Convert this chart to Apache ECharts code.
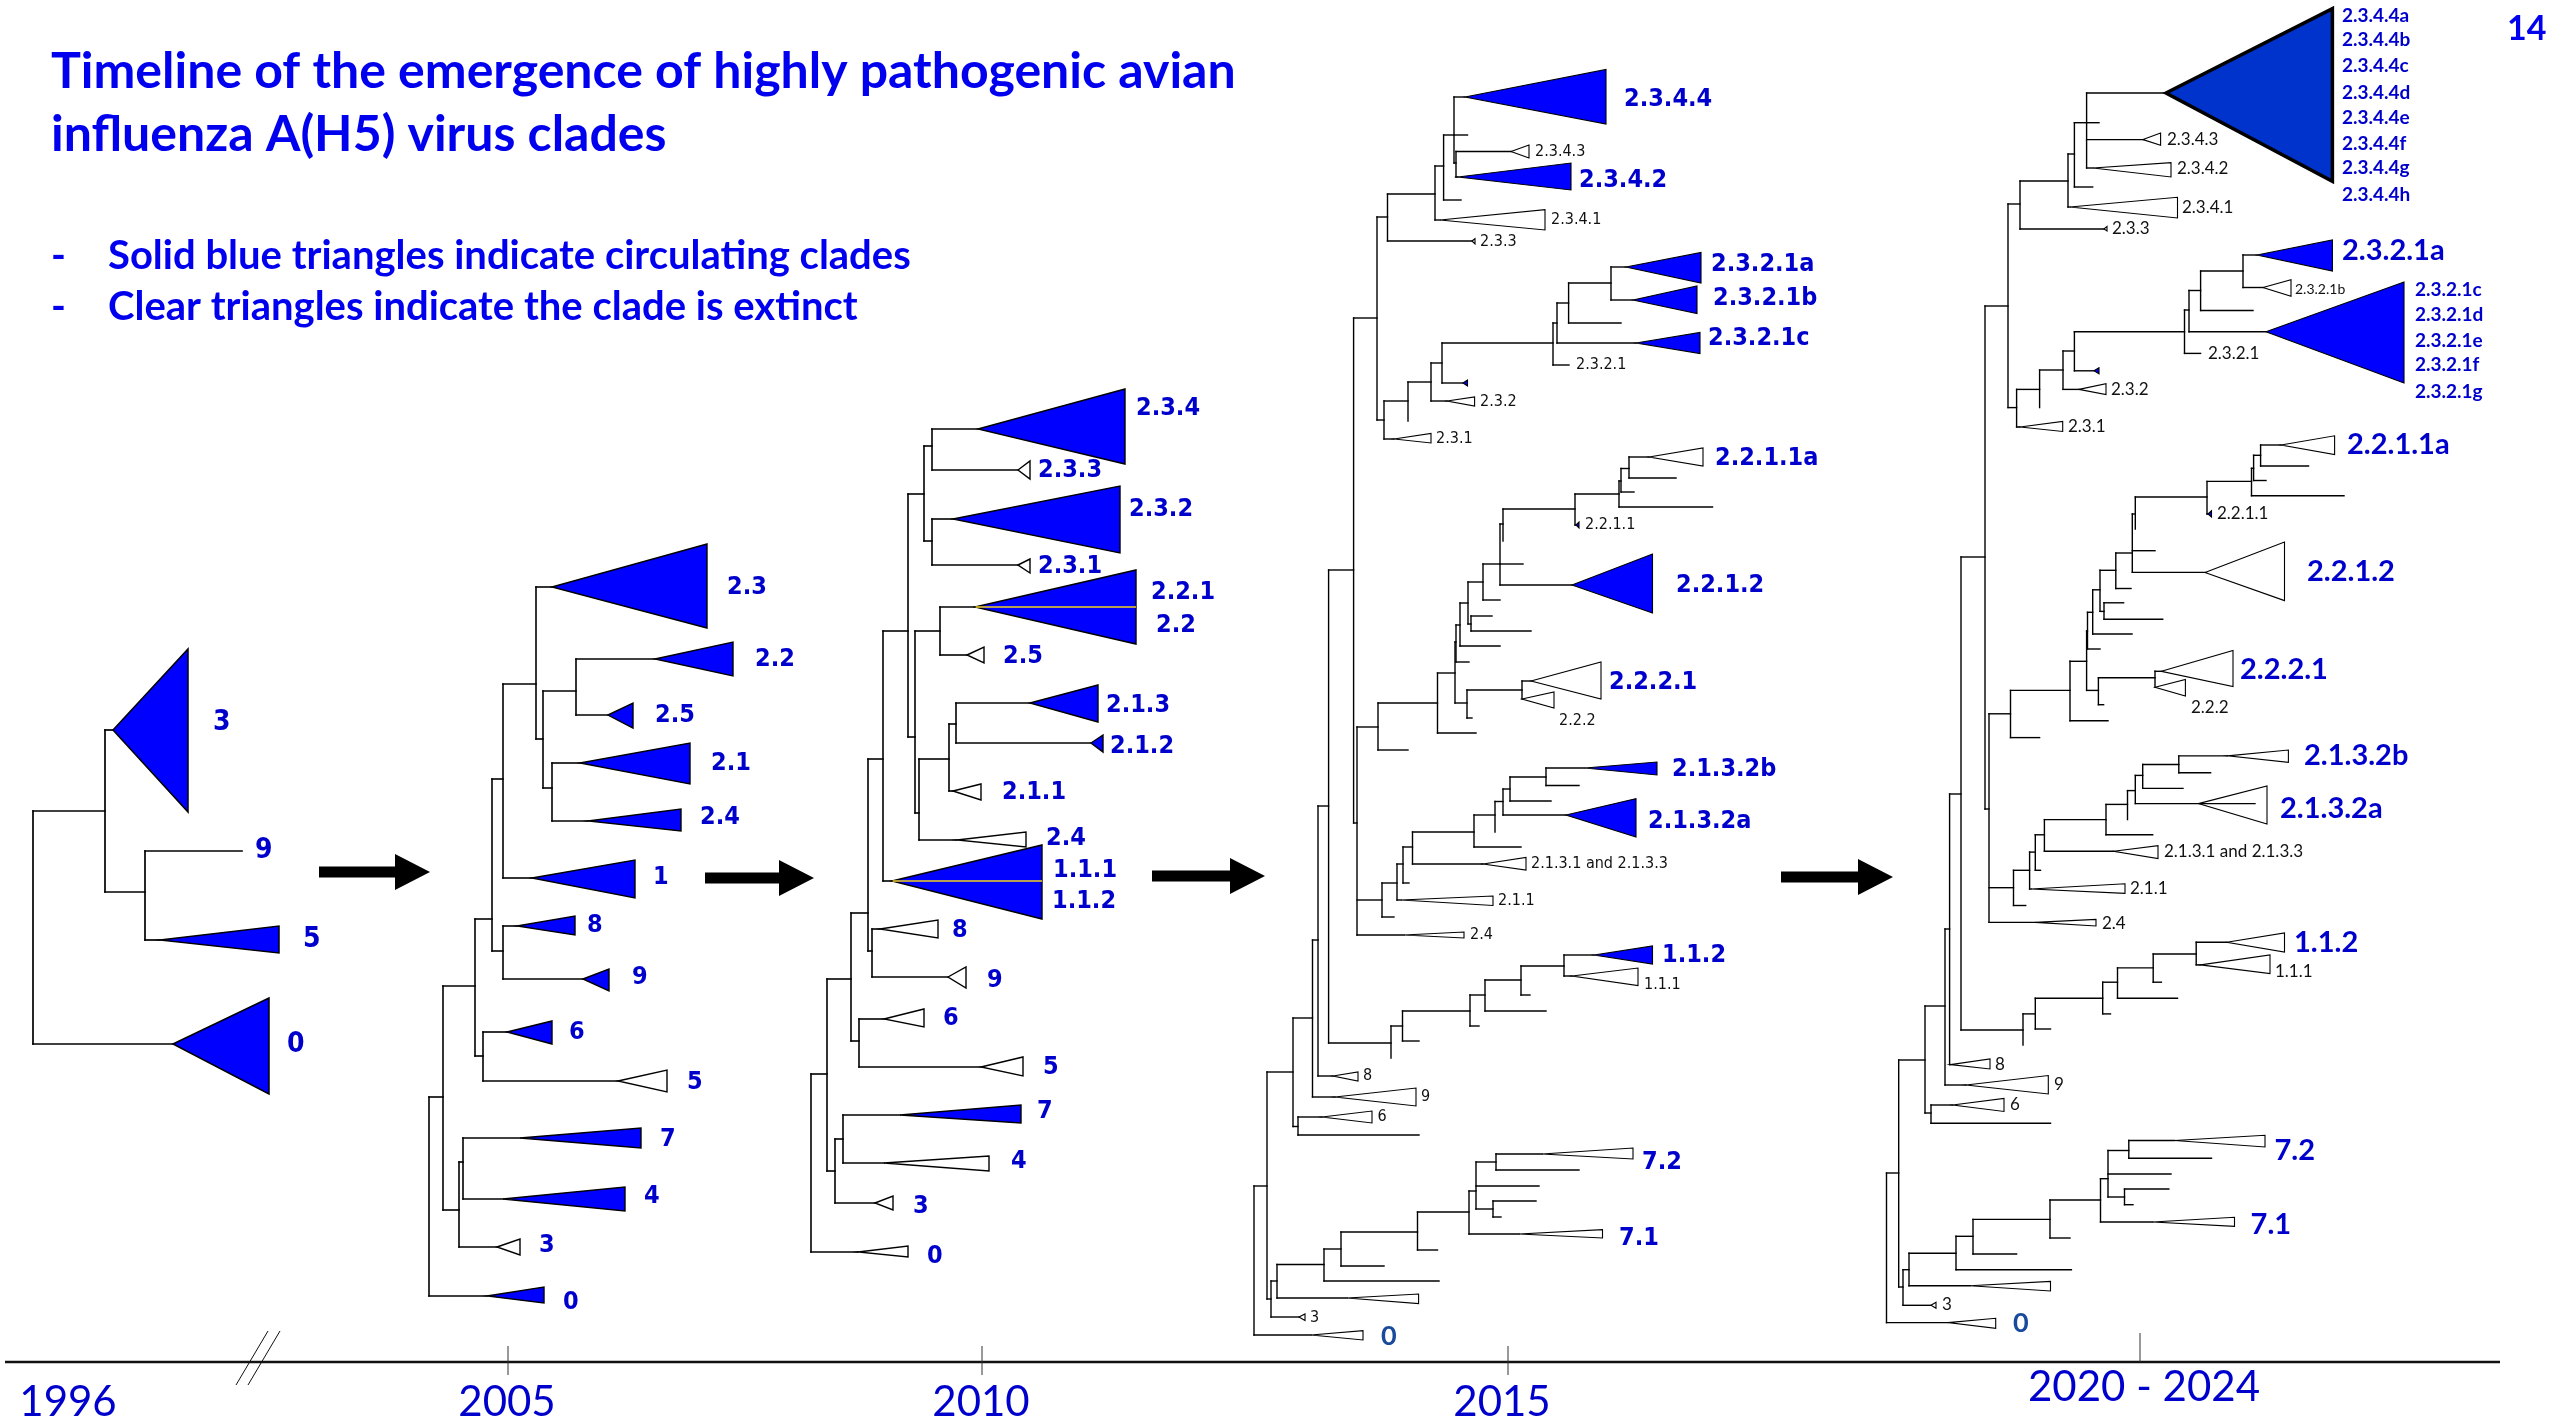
<!DOCTYPE html>
<html><head><meta charset="utf-8">
<script src="https://cdn.jsdelivr.net/npm/echarts@6/dist/echarts.min.js"></script>
<style>html,body{margin:0;padding:0;background:#fff}#c{width:2552px;height:1422px}</style>
</head><body><div id="c"></div>
<script>
// ---------- DATA ----------
// nodes: [id, parentId, x (divergence), y (row)]
// clades: [id, baseX, top, bottom, kind(F=blue,O=open,D=dark blue,Y=blue+yellow), apexX?]
// labels: [text, x, y, style]
const tree1996Nodes = [
 ['R',null,33,928],['A','R',105,811],['c3','A',113,730],['B','A',145,892],
 ['c9','B',242,851],['c5','B',160,940],['c0','R',173,1044]
];
const tree1996Clades = [['c3',188,649,812,'F'],['c5',279,926,953,'F'],['c0',269,998,1094,'F']];
const tree1996Labels = [['3',213,723,'b27'],['9',255,851,'b27'],['5',303,940,'b27'],['0',287,1045,'b27']];

const tree2005Nodes = [
 ['r',null,429,1200],['n1','r',443,1097],['n2','n1',475,986],['n3','n2',492,919],
 ['n4','n3',503,779],['n5','n4',536,684],['t23','n5',552,587],['n6','n5',543,739],
 ['n7','n6',576,691],['t22','n7',655,659],['t25','n7',608,715],['n8','n6',552,788],
 ['t21','n8',580,763],['t24','n8',588,821],['t1','n4',532,878],['n9','n3',503,951],
 ['t8','n9',517,926],['t9','n9',583,979],['n10','n2',483,1056],['t6','n10',507,1032],
 ['t5','n10',618,1081],['n11','n1',459,1210],['n12','n11',463,1162],['t7','n12',520,1138],
 ['t4','n12',503,1199],['t3','n11',497,1247],['t0','r',487,1296]
];
const tree2005Clades = [
 ['t23',707,544,628,'F'],['t22',733,642,676,'F'],['t25',633,703,728,'F'],['t21',690,743,784,'F'],
 ['t24',681,809,831,'F'],['t1',635,860,898,'F'],['t8',575,916,935,'F'],['t9',609,969,991,'F'],
 ['t6',552,1021,1044,'F'],['t5',667,1070,1092,'O'],['t7',641,1128,1148,'F'],['t4',625,1187,1211,'F'],
 ['t3',520,1239,1255,'O'],['t0',544,1287,1303,'F']
];
const tree2005Labels = [
 ['2.3',727,587,'b24'],['2.2',755,659,'b24'],['2.5',655,715,'b24'],['2.1',711,763,'b24'],
 ['2.4',700,817,'b24'],['1',653,877,'b24'],['8',587,925,'b24'],['9',632,977,'b24'],
 ['6',569,1032,'b24'],['5',687,1082,'b24'],['7',660,1139,'b24'],['4',644,1196,'b24'],
 ['3',539,1245,'b24'],['0',563,1302,'b24']
];

const tree2010Nodes = [
 ['r',null,811,1150],['n1','r',827,1074],['n2','n1',851,979],['n3','n2',868,913],
 ['n4','n3',883,759],['n5','n4',908,631],['n6','n5',924,494],['n6a','n6',932,446],
 ['t234','n6a',978,429],['t233','n6a',1018,470],['n6b','n6',932,541],['t232','n6b',953,519],
 ['t231','n6b',1018,565],['n7','n5',915,737],['n8','n7',940,631],['t221','n8',975,607],
 ['t25','n8',967,655],['n9','n7',919,813],['n10','n9',949,759],['n11','n10',956,724],
 ['t213','n11',1030,703],['t212','n11',1091,743],['t211','n10',953,791],['t24','n9',957,840],
 ['t11','n4',892,881],['n12','n3',872,951],['t8','n12',880,929],['t9','n12',948,977],
 ['n13','n2',859,1041],['t6','n13',884,1019],['t5','n13',981,1067],['n14','n1',835,1171],
 ['n15','n14',843,1139],['t7','n15',900,1115],['t4','n15',884,1163],['t3','n14',875,1203],
 ['t0','r',858,1252]
];
const tree2010Clades = [
 ['t234',1125,389,464,'F'],['t233',1030,461,479,'O'],['t232',1120,486,553,'F'],['t231',1030,559,573,'O'],
 ['t221',1136,570,644,'Y'],['t25',984,647,663,'O'],['t213',1098,685,722,'F'],['t212',1103,735,752,'F'],
 ['t211',981,784,800,'O'],['t24',1026,832,847,'O'],['t11',1042,845,919,'Y'],['t8',938,920,938,'O'],
 ['t9',966,967,988,'O'],['t6',924,1009,1027,'O'],['t5',1023,1057,1076,'O'],['t7',1021,1105,1123,'F'],
 ['t4',989,1156,1171,'O'],['t3',893,1196,1210,'O'],['t0',908,1246,1257,'O']
];
const tree2010Labels = [
 ['2.3.4',1136,408,'b24'],['2.3.3',1038,470,'b24'],['2.3.2',1129,509,'b24'],['2.3.1',1038,566,'b24'],
 ['2.2.1',1151,592,'b24'],['2.2',1156,625,'b24'],['2.5',1003,656,'b24'],['2.1.3',1106,705,'b24'],
 ['2.1.2',1110,746,'b24'],['2.1.1',1002,792,'b24'],['2.4',1046,838,'b24'],['1.1.1',1053,870,'b24'],
 ['1.1.2',1052,901,'b24'],['8',952,930,'b24'],['9',987,980,'b24'],['6',943,1018,'b24'],
 ['5',1043,1067,'b24'],['7',1037,1111,'b24'],['4',1011,1161,'b24'],['3',913,1206,'b24'],['0',927,1256,'b24']
];

const tree2015Nodes = [
 ['DG',null,1254,1260],['DF','DG',1267,1186],['t0','DG',1311,1335],['DD','DF',1293,1072],
 ['EA','DF',1271,1299],['DC','DD',1312.5,1018],['DE','DD',1298,1126.5],['DB','DC',1318,940],
 ['t9','DC',1335,1097],['DA','DB',1328.6,806],['t8','DB',1333,1076],['AR','DA',1353.6,570],
 ['CA','DA',1391,1043],['T','AR',1377,318],['AQ','AR',1357,823],['S','T',1387.5,217],
 ['U','T',1384,420],['R','S',1435,194],['t233','S',1472,241],['Q','R',1443.6,166],
 ['t2341','R',1440,220],['P1','Q',1454,135],['tB','Q',1461,200],['t2344','P1',1465,97],
 ['tA','P1',1467.5,135],['P2','P1',1456,163],['t2343','P2',1511,151.5],['t2342','P2',1458,177],
 ['V','U',1408,401],['t231','U',1394,439],['W','V',1431,382],['sV','V',1408,421],
 ['X1','W',1442,363],['t232','W',1447,401],['Y1','X1',1553,343],['ts','X1',1463,383],
 ['Z1','Y1',1557,323],['tC','Y1',1569,365],['Z2','Z1',1568.6,303],['t2321c','Z1',1636,343],
 ['Z3','Z2',1611,283],['tD','Z2',1621,323],['t2321a','Z3',1626,267],['t2321b','Z3',1633,300],
 ['AP','AQ',1378,727],['BA','AQ',1382,900],['t24','AQ',1404,935],['AO','AP',1437.5,703],
 ['tO','AP',1408,750],['AN','AO',1455,673],['tN','AO',1476,733],['AK','AN',1456,642],
 ['AL','AN',1467,703],['AJ','AK',1460,625],['tM','AK',1469,662],['AH','AJ',1468,603],
 ['tL','AJ',1500,646],['AG','AH',1483,582],['AI','AH',1471,624],['tJ','AI',1492,616],
 ['tK','AI',1531,631],['AF','AG',1500,564],['tI','AG',1500,600],['AE','AF',1503,524],
 ['tH','AF',1523,564],['t2212','AF',1572,585],['AD','AE',1575,509],['sE','AE',1503,541],
 ['AC','AD',1619,494],['t2211','AD',1576,525],['AB','AC',1621,481],['tG','AC',1712.5,507],
 ['AA','AB',1629,468.5],['tF','AB',1634,492],['t2211a','AA',1649,457],['tE','AA',1676,478],
 ['AM','AL',1522,690],['sL','AL',1472,718],['t2221','AM',1531,681],['t222','AM',1522,699],
 ['BB','BA',1397,883],['tP','BA',1394,917],['BC','BB',1403,864],['t211','BB',1401,900],
 ['BD','BC',1412.5,847],['tQ','BC',1409,883],['BE','BD',1474,832],['t2131','BD',1483,864],
 ['BF','BE',1495,815],['tR','BE',1521,847],['BG','BF',1503,801.5],['sF','BF',1495,832],
 ['BH','BG',1510,789],['t2132a','BG',1566,815],['BI','BH',1546,777],['tS','BH',1551,801],
 ['t2132b','BI',1585,768],['tT','BI',1579,785.5],
 ['CB','CA',1402.5,1026],['sC','CA',1391,1058],['CC','CB',1470,1011],['tU','CB',1419,1041],
 ['CD','CC',1485,995],['tV','CC',1479,1026],['CE','CD',1521,980],['tW','CD',1546,1011],
 ['CF','CE',1564,966],['tX','CE',1530,995],['t112','CF',1594,955],['t111','CF',1572,976],
 ['t6','DE',1322,1117],['tY','DE',1419,1135],
 ['EB','EA',1277,1281],['t3','EA',1299,1317],['EC','EB',1324,1264.5],['top','EB',1347,1298],
 ['ED','EC',1341,1249],['tZ','EC',1439,1281],['EE','ED',1417.5,1232],['tZ2','ED',1384,1266],
 ['EF','EE',1469,1212],['tZ3','EE',1437.5,1250],['EG','EF',1476,1191],['t71','EF',1519,1234],
 ['EH','EG',1496,1162],['tZ4','EG',1539,1186],['EI','EG',1493,1209],['t72','EH',1542,1154],
 ['tZ5','EH',1579,1170],['tZ6','EI',1536,1201],['tZ7','EI',1501,1217]
];
const tree2015Clades = [
 ['t0',1363,1330.6,1340,'O'],['t9',1416,1088,1106,'O'],['t8',1358,1072,1081,'O'],
 ['t233',1475,238.7,244,'O'],['t2341',1545,209.6,230,'O'],['t2344',1606,69.5,124,'F'],
 ['t2343',1529,145,158,'O'],['t2342',1571,163,190,'F'],['t231',1431,433.5,443,'O'],
 ['t232',1474.6,397,406,'O'],['ts',1467.5,380,386,'F'],['t2321c',1700,332.5,353.5,'F'],
 ['t2321a',1701,252.5,283,'F'],['t2321b',1697,286,313.6,'F'],['t24',1464,932,938,'O'],
 ['t2212',1652.5,554,613,'F'],['t2211',1579,522,528,'F'],['t2211a',1703,448,466,'O'],
 ['t2221',1601,662,699,'O'],['t222',1554,692,708,'O'],['t211',1493,896,905.5,'O'],
 ['t2131',1526,857.5,870,'O'],['t2132a',1636,798.6,837,'F'],['t2132b',1657,762,775,'F'],
 ['t112',1652.5,946,964,'F'],['t111',1638,968,985.5,'O'],['t6',1372,1111,1123,'O'],
 ['t3',1305,1314,1320.5,'O'],['top',1418.6,1294,1303.6,'O'],['t71',1602.5,1229.6,1238,'O'],
 ['t72',1633,1148,1159,'O']
];
const tree2015Labels = [
 ['2.3.4.4',1624,99,'B'],['2.3.4.2',1579,180,'B'],['2.3.2.1a',1711,264,'B'],['2.3.2.1b',1713,298,'B'],
 ['2.3.2.1c',1708,338,'B'],['2.2.1.1a',1715,458,'B'],['2.2.1.2',1676,585,'B'],['2.2.2.1',1609,682,'B'],
 ['2.1.3.2b',1672,769,'B'],['2.1.3.2a',1648,821,'B'],['1.1.2',1662,955,'B'],['7.2',1642,1162,'B'],
 ['7.1',1619,1238,'B'],['0',1381,1336,'Z'],
 ['2.3.4.3',1535,151.5,'S'],['2.3.4.1',1551,220,'S'],['2.3.3',1480,242,'S'],['2.3.2.1',1576,365,'S'],
 ['2.3.2',1480,402,'S'],['2.3.1',1436,439,'S'],['2.2.1.1',1585,525,'S'],['2.2.2',1559,721,'S'],
 ['2.1.3.1 and 2.1.3.3',1531,864,'S'],['2.1.1',1498,901,'S'],['2.4',1470,935,'S'],['1.1.1',1644,985,'S'],
 ['8',1363,1076,'S'],['9',1421,1097,'S'],['6',1377.5,1117,'S'],['3',1310,1318,'S']
];

const tree2020Nodes = [
 ['root',null,1886.5,1250],['DF','root',1898.7,1173],['t0','root',1948,1322.6],['DD','DF',1925,1060],
 ['EA','DF',1903,1287],['DC','DD',1945,1006],['DE','DD',1931,1113],['DB','DC',1949.6,929],
 ['t9','DC',1966,1085],['DA','DB',1961,794],['t8','DB',1950.5,1064.6],['AR','DA',1985,557],
 ['CA','DA',2023,1030],['T','AR',2008,306],['AQ','AR',1989,809],['S','T',2020,204],
 ['U','T',2016.6,407.6],['R','S',2068,181],['t233','S',2104,229],['Q','R',2074.4,154],
 ['t2341','R',2070,207],['P1','Q',2086.6,122.7],['tB','Q',2092.7,187],['t2344','P1',2166,93],
 ['tA','P1',2099,122.7],['t2343','P1',2143,139.6],['t2342','P1',2093,168],
 ['V','U',2039.6,389.4],['t231','U',2020,427],['W','V',2063,370],['sV','V',2039.6,407.6],
 ['X1','W',2074.4,351],['t232','W',2079,389.4],['Y1','X1',2184.5,331.7],['ts','X1',2094,370.8],
 ['Z1','Y1',2189,310],['tC','Y1',2200.6,353.4],['Z2','Z1',2200.6,290.5],['t2321c','Z1',2266,331.7],
 ['Z3','Z2',2243,271],['tD','Z2',2253,310.5],['t2321a','Z3',2257,255],['t2321b','Z3',2263,287.5],
 ['AP','AQ',2010.5,713.8],['BA','AQ',2013.5,887.7],['t24','AQ',2035,922.4],['AO','AP',2070,690.4],
 ['tO','AP',2039.6,737.6],['AN','AO',2086.6,661.3],['tN','AO',2108,720.7],['AK','AN',2087.5,631],
 ['AL','AN',2098.4,690.4],['AJ','AK',2092.7,612.3],['tM','AK',2100,649],['AH','AJ',2100,589.8],
 ['tL','AJ',2132,634],['AG','AH',2115.8,570.3],['AI','AH',2104,611.4],['tJ','AI',2123.6,602.8],
 ['tK','AI',2162.7,619.3],['AF','AG',2132.3,553],['tI','AG',2131,588.5],['AE','AF',2135.3,514],
 ['tH','AF',2155,550.7],['t2212','AF',2205,572.4],['AD','AE',2207,497],['sE','AE',2135.3,529],
 ['AC','AD',2251.5,481.4],['t2211','AD',2208,514],['AB','AC',2253.6,468.3],['tG','AC',2344,495.7],
 ['AA','AB',2260.6,455.3],['tF','AB',2266,480.5],['t2211a','AA',2281,445],['tE','AA',2308.5,466],
 ['AM','AL',2155,677.8],['sL','AL',2103.6,704.7],['t2221','AM',2161.4,671.3],['t222','AM',2155,687.3],
 ['BB','BA',2029.6,870.3],['tP','BA',2025.7,905.5],['BC','BB',2035.3,852.1],['t211','BB',2031,889],
 ['BD','BC',2044.4,834.8],['sQ','BC',2040.5,870.3],['BE','BD',2106,819.6],['t2131','BD',2113.6,851.3],
 ['BF','BE',2127.5,804.4],['tR','BE',2152.7,834.8],['BG','BF',2135.3,790.6],['sF','BF',2127.5,819.6],
 ['BH','BG',2142.7,775.4],['t2132a','BG',2255,803.6],['BI','BH',2178.8,764.5],['tS','BH',2183,788.4],
 ['t2132b','BI',2227.5,755.9],['tT','BI',2210.6,772.8],
 ['CB','CA',2035.3,1013.9],['sC','CA',2023,1045],['CC','CB',2102.7,998.3],['tU','CB',2050.5,1029],
 ['CD','CC',2117.5,982.2],['tV','CC',2110.5,1013.9],['CE','CD',2153.2,967.9],['tW','CD',2177.5,998.3],
 ['CF','CE',2196.2,954],['tX','CE',2161.4,982.2],['t112','CF',2226.7,942.3],['t111','CF',2200.6,964.9],
 ['t6','DE',1952.6,1105],['tY','DE',2050.5,1123.2],
 ['EB','EA',1909,1269.7],['t3','EA',1931,1305.3],['EC','EB',1956,1253.3],['top','EB',1970,1285.8],
 ['ED','EC',1973,1236.3],['tZ','EC',2071.4,1269.7],['EE','ED',2050,1219.4],['tZ2','ED',2016.6,1254],
 ['EF','EE',2100.5,1200],['tZ3','EE',2070,1238],['EG','EF',2108,1178.7],['t71','EF',2152.7,1222],
 ['EH','EG',2128.8,1150.5],['tZ4','EG',2171,1174],['EI','EG',2124.5,1197],['t72','EH',2174.5,1140.5],
 ['tZ5','EH',2211.5,1158.3],['tZ6','EI',2168.8,1189],['tZ7','EI',2133,1204.7]
];
const tree2020Clades = [
 ['t0',1995.7,1318.3,1328.3,'O'],['t9',2048.3,1075.5,1094,'O'],['t8',1990,1059,1069,'O'],
 ['t233',2107,226.4,231,'O'],['t2341',2177.5,197.3,218,'O'],['t2344',2332.4,8.7,181.3,'D'],
 ['t2343',2160.6,133,145.3,'O'],['t2342',2171,162.6,177,'O'],['t231',2062.7,421.5,431.5,'O'],
 ['t232',2106,383.8,394.6,'O'],['ts',2099,367.7,373.8,'F'],['t2321c',2404,282,383,'F'],
 ['t2321a',2332.4,240,271,'F'],['t2321b',2291,279.7,296.2,'O'],['t24',2096,919.4,926,'O'],
 ['t2212',2284.5,542,600.6,'O'],['t2211',2211.5,510.8,517,'F'],['t2211a',2334.6,435.8,454.5,'O'],
 ['t2221',2233,650.5,686.5,'O'],['t222',2185.4,679.5,696,'O'],['t211',2125,883.8,893.3,'O'],
 ['t2131',2158,845.6,858.6,'O'],['t2132a',2267,786,824,'O',2198.4],['t2132b',2288.4,750,762.4,'O'],
 ['t112',2284.5,933,952,'O'],['t111',2270,955,973.6,'O'],['t6',2004,1098.4,1111.5,'O'],
 ['t3',1936,1302.3,1308.3,'O'],['top',2050.5,1281.4,1291,'O'],['t71',2234.5,1217.3,1226.4,'O'],
 ['t72',2265,1135.3,1147,'O']
];
const tree2020Labels = [
 ['2.3.2.1a',2342,251,'C'],['2.2.1.1a',2347,445,'C'],['2.2.1.2',2307,572,'C'],['2.2.2.1',2240,670,'C'],
 ['2.1.3.2b',2304,756,'C'],['2.1.3.2a',2280,809,'C'],['1.1.2',2294,943,'C'],['7.2',2274.5,1151,'C'],
 ['7.1',2250.6,1225,'C'],['0',2013,1323.5,'Z'],
 ['2.3.4.4a',2342,16,'M'],['2.3.4.4b',2342,40.3,'M'],['2.3.4.4c',2342,66.3,'M'],['2.3.4.4d',2342,92.4,'M'],
 ['2.3.4.4e',2342,117.5,'M'],['2.3.4.4f',2342,143.5,'M'],['2.3.4.4g',2342,168.3,'M'],['2.3.4.4h',2342,194.7,'M'],
 ['2.3.2.1c',2415,289.7,'M'],['2.3.2.1d',2415,314.4,'M'],['2.3.2.1e',2415,340.4,'M'],['2.3.2.1f',2415,365.1,'M'],
 ['2.3.2.1g',2415,391.6,'M'],
 ['2.3.4.3',2167,139.6,'N'],['2.3.4.2',2177,168.3,'N'],['2.3.4.1',2182,207.3,'N'],['2.3.3',2112,229,'N'],
 ['2.3.2.1',2208,353.4,'N'],['2.3.2',2111,389.4,'N'],['2.3.1',2068,427,'N'],['2.2.1.1',2217,514,'N'],
 ['2.2.2',2191,708,'N'],['2.1.3.1 and 2.1.3.3',2164,852,'N'],['2.1.1',2130,889,'N'],['2.4',2102,923.7,'N'],
 ['1.1.1',2275,972,'N'],['8',1995,1064.6,'N'],['9',2054,1085,'N'],['6',2010,1105,'N'],['3',1942,1305,'N'],
 ['2.3.2.1b',2295,289.7,'T']
];

const timelineLabels = ['1996','2005','2010','2015','2020 - 2024'];
const timelineLabelX = [68, 507, 981, 1502, 2144];
const timelineLabelY = [1402, 1402, 1402, 1402, 1387];
const timelineTickX = [null, 508, 982, 1508, 2140];

const titleLines = ['Timeline of the emergence of highly pathogenic avian', 'influenza A(H5) virus clades'];
const bulletLines = ['Solid blue triangles indicate circulating clades', 'Clear triangles indicate the clade is extinct'];
const pageNumber = '14';

// ---------- BUILD ----------
const KIND = {F:0, O:1, D:2, Y:3};
const FILLS = ['#0000FF', '#FFFFFF', '#0033CC', '#0000FF'];
const DJ = "'DejaVu Sans Condensed','DejaVu Sans',sans-serif";
const LS = {
  b27: {font: "bold 28px " + DJ, color: '#0000CC'},
  b24: {font: "bold 25px " + DJ, color: '#0000CC'},
  B:   {font: "bold 25px " + DJ, color: '#0000CC'},
  S:   {font: "16px " + DJ, color: '#111111'},
  Z:   {font: "bold 27px Lato", color: '#1A4A9C'},
  C:   {font: "bold 29px Lato", color: '#0000CC'},
  M:   {font: "bold 19px Lato", color: '#0000CC'},
  N:   {font: "17px Lato", color: '#111111'},
  T:   {font: "14px Lato", color: '#111111'}
};

function buildTree(nodes, clades) {
  const byId = {}, kids = {};
  nodes.forEach(n => { byId[n[0]] = n; kids[n[0]] = []; });
  nodes.forEach(n => { if (n[1] !== null) kids[n[1]].push(n); });
  const segs = [];
  nodes.forEach(n => {
    const id = n[0], pid = n[1], x = n[2], y = n[3];
    if (pid !== null) {
      const p = byId[pid];
      if (Math.abs(p[2] - x) > 0.01) segs.push([p[2], y, x, y]);
    }
    const ch = kids[id];
    if (ch.length) {
      const ys = ch.map(c => c[3]);
      if (pid !== null) ys.push(y);
      segs.push([x, Math.min.apply(null, ys), x, Math.max.apply(null, ys)]);
    }
  });
  const tris = clades.map(c => {
    const n = byId[c[0]];
    const ax = c.length > 5 ? c[5] : n[2];
    return [ax, n[3], c[1], c[2], c[3], KIND[c[4]]];
  });
  return {segs, tris};
}

const trees = [
  {name: '1996', nodes: tree1996Nodes, clades: tree1996Clades, labels: tree1996Labels, lw: 1.7, tw: 1.5},
  {name: '2005', nodes: tree2005Nodes, clades: tree2005Clades, labels: tree2005Labels, lw: 1.6, tw: 1.4},
  {name: '2010', nodes: tree2010Nodes, clades: tree2010Clades, labels: tree2010Labels, lw: 1.6, tw: 1.4},
  {name: '2015', nodes: tree2015Nodes, clades: tree2015Clades, labels: tree2015Labels, lw: 1.4, tw: 1.1},
  {name: '2020', nodes: tree2020Nodes, clades: tree2020Clades, labels: tree2020Labels, lw: 1.4, tw: 1.1}
];

const series = [];
trees.forEach(t => {
  const b = buildTree(t.nodes, t.clades);
  series.push({
    type: 'custom', name: 'clades ' + t.name, coordinateSystem: 'cartesian2d', clip: false, silent: true,
    data: b.tris,
    renderItem: (params, api) => {
      const a = api.coord([api.value(0), api.value(1)]);
      const top = api.coord([api.value(2), api.value(3)]);
      const bot = api.coord([api.value(2), api.value(4)]);
      const k = api.value(5);
      const children = [{
        type: 'polygon', shape: {points: [a, top, bot]},
        style: {fill: FILLS[k], stroke: '#000', lineWidth: k === 2 ? 3.5 : t.tw, lineJoin: 'miter'}
      }];
      if (k === 3) {
        children.push({type: 'line', shape: {x1: a[0], y1: a[1], x2: top[0], y2: a[1]},
          style: {stroke: '#F2D21B', lineWidth: 1.6}});
      }
      return {type: 'group', children};
    }
  });
  series.push({
    type: 'custom', name: 'branches ' + t.name, coordinateSystem: 'cartesian2d', clip: false, silent: true,
    data: b.segs,
    renderItem: (params, api) => {
      const p1 = api.coord([api.value(0), api.value(1)]);
      const p2 = api.coord([api.value(2), api.value(3)]);
      return {type: 'line', shape: {x1: p1[0], y1: p1[1], x2: p2[0], y2: p2[1]},
        style: {stroke: '#000', lineWidth: t.lw, lineCap: 'square'}};
    }
  });
  series.push({
    type: 'custom', name: 'labels ' + t.name, coordinateSystem: 'cartesian2d', clip: false, silent: true,
    data: t.labels.map(l => [l[1], l[2]]),
    renderItem: (params, api) => {
      const l = t.labels[params.dataIndex];
      const st = LS[l[3]];
      const p = api.coord([api.value(0), api.value(1)]);
      return {type: 'text', x: p[0], y: p[1],
        style: {text: l[0], fill: st.color, font: st.font, align: 'left', verticalAlign: 'middle',
                textAlign: 'left', textVerticalAlign: 'middle'}};
    }
  });
});

// timeline ticks + labels
series.push({
  type: 'custom', name: 'timeline', coordinateSystem: 'cartesian2d', clip: false, silent: true,
  data: timelineLabels.map((s, i) => [timelineLabelX[i], timelineLabelY[i]]),
  renderItem: (params, api) => {
    const i = params.dataIndex;
    const p = api.coord([api.value(0), api.value(1)]);
    const children = [{type: 'text', x: p[0], y: p[1],
      style: {text: timelineLabels[i], fill: '#0000CC', font: '42px Lato', align: 'center', verticalAlign: 'middle',
              textAlign: 'center', textVerticalAlign: 'middle'}}];
    if (timelineTickX[i] !== null) {
      const y1 = i === 4 ? 1333 : 1346, y2 = i === 4 ? 1362 : 1375;
      const a = api.coord([timelineTickX[i], y1]), b = api.coord([timelineTickX[i], y2]);
      children.push({type: 'line', shape: {x1: a[0], y1: a[1], x2: b[0], y2: b[1]}, style: {stroke: '#333', lineWidth: 1}});
    }
    return {type: 'group', children};
  }
});

function arrow(x0, x1, y) {
  const hl = 35, hh = 18, sh = 5.5, xb = x1 - hl;
  return {type: 'polygon', silent: true,
    shape: {points: [[x0, y - sh], [xb, y - sh], [xb, y - hh], [x1, y], [xb, y + hh], [xb, y + sh], [x0, y + sh]]},
    style: {fill: '#000'}};
}
function midText(x, y, text, font) {
  return {type: 'text', x: x, y: y, silent: true,
    style: {text: text, fill: '#0000EE', font: font, align: 'left', verticalAlign: 'middle',
            textAlign: 'left', textVerticalAlign: 'middle'}};
}

const chart = echarts.init(document.getElementById('c'), null, {renderer: 'canvas'});
chart.setOption({
  animation: false,
  backgroundColor: '#ffffff',
  title: {
    text: titleLines.join('\n'), left: 46, top: 35,
    textStyle: {fontFamily: 'Lato', fontWeight: 'bold', fontSize: 50, color: '#0000EE', lineHeight: 63}
  },
  grid: {left: 0, top: 0, right: 0, bottom: 0, containLabel: false},
  xAxis: {type: 'value', min: 0, max: 2552, show: false},
  yAxis: {type: 'value', min: 0, max: 1422, inverse: true, show: false},
  graphic: [
    midText(51, 256, '-', 'bold 40px Lato'),
    midText(108, 256, bulletLines[0], 'bold 40px Lato'),
    midText(51, 307, '-', 'bold 40px Lato'),
    midText(108, 307, bulletLines[1], 'bold 40px Lato'),
    midText(2507, 29, pageNumber, 'bold 34px Lato'),
    arrow(319, 430, 872), arrow(705, 814, 878), arrow(1152, 1265, 876), arrow(1781, 1893, 877),
    {type: 'line', silent: true, shape: {x1: 5, y1: 1362, x2: 2500, y2: 1362}, style: {stroke: '#111', lineWidth: 2.5}},
    {type: 'line', silent: true, shape: {x1: 268, y1: 1331, x2: 236, y2: 1385}, style: {stroke: '#111', lineWidth: 1}},
    {type: 'line', silent: true, shape: {x1: 280, y1: 1331, x2: 248, y2: 1385}, style: {stroke: '#111', lineWidth: 1}}
  ],
  series: series
});
</script>
</body></html>
